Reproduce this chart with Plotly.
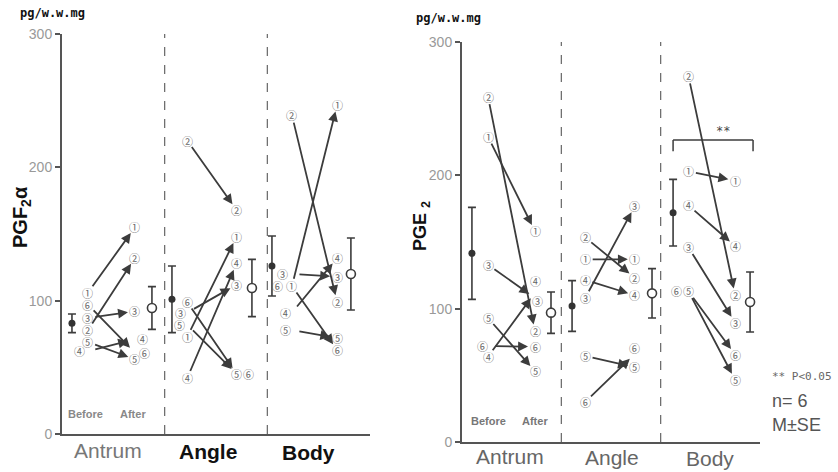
import plotly.graph_objects as go

# ---------------- data ----------------
regions = ["Antrum", "Angle", "Body"]
subjects = [1, 2, 3, 4, 5, 6]

# PGF2alpha (pg/w.w.mg), subjects 1..6, per region
pgf_before = {
    "Antrum": [106, 78, 87, 62, 69, 97],
    "Angle": [73, 220, 91, 42, 82, 99],
    "Body": [111, 239, 120, 91, 78, 111],
}
pgf_after = {
    "Antrum": [155, 132, 92, 71, 56, 61],
    "Angle": [148, 168, 112, 128, 45, 45],
    "Body": [247, 99, 118, 132, 72, 63],
}
pgf_mean_before = [83, 101, 126]
pgf_se_before = [7, 25, 22.5]
pgf_mean_after = [94.5, 109.5, 120]
pgf_se_after = [16, 21.5, 27]

# PGE2 (pg/w.w.mg)
pge_before = {
    "Antrum": [229, 259, 133, 64, 93, 72],
    "Angle": [137, 153.5, 108, 121.5, 64.5, 30],
    "Body": [203, 274.5, 146, 177.5, 113, 113],
}
pge_after = {
    "Antrum": [158, 83, 108, 112, 53, 71.5],
    "Angle": [137, 123, 177, 110, 56, 66],
    "Body": [196, 110, 89.5, 147, 46.5, 65.5],
}
pge_mean_before = [141.5, 102, 172]
pge_se_before = [34.5, 19, 25]
pge_mean_after = [97, 111.5, 105]
pge_se_after = [15.5, 18.5, 22.5]

y_ticks = [0, 100, 200, 300]
circled = ["①", "②", "③", "④", "⑤", "⑥"]

# ---------------- layout helpers ----------------
W, H = 838, 472
# x positions inside each region: mean-before, points-before, points-after, mean-after
POS = {
    "L": [(0.097, 0.253, 0.71, 0.876), (1.071, 1.22, 1.70, 1.85), (2.045, 2.24, 2.68, 2.814)],
    "R": [(0.10, 0.262, 0.735, 0.896), (1.108, 1.24, 1.74, 1.913), (2.125, 2.28, 2.75, 2.90)],
}
# pixel nudges for crowded circled labels: (panel, region, side, subject) -> (dx, dy)
NUDGE = {
    ("L", "Antrum", "b", 4): (-8, 0),
    ("L", "Antrum", "a", 4): (8, 0),
    ("L", "Antrum", "a", 6): (10, 0),
    ("L", "Angle", "b", 3): (-7, 0),
    ("L", "Angle", "b", 5): (-8, 0),
    ("L", "Angle", "a", 6): (12, 0),
    ("L", "Body", "b", 3): (-9, 0),
    ("L", "Body", "b", 4): (-6, 0),
    ("L", "Body", "b", 5): (-6, 0),
    ("L", "Body", "b", 6): (-14, 0),
    ("R", "Antrum", "b", 6): (-6, 0),
    ("R", "Antrum", "a", 4): (0, 12),
    ("R", "Antrum", "a", 3): (2, -3),
    ("R", "Angle", "a", 6): (0, 6),
    ("R", "Body", "b", 6): (-12, 0),
}

LINE = "#3c3c3c"
LABEL = "#666666"
DIGIT_FONT = "Noto Sans CJK JP"

fig = go.Figure()
annotations = []
shapes = []


def add_panel(tag, xa, ya, before, after, mb, sb, ma, sa):
    for i, reg in enumerate(regions):
        pmb, pb, pa, pma = POS[tag][i]
        for s in subjects:
            vb = before[reg][s - 1]
            va = after[reg][s - 1]
            # arrow from before to after
            annotations.append(dict(
                x=pa, y=va, ax=pb, ay=vb, xref=xa, yref=ya, axref=xa, ayref=ya,
                text="", showarrow=True, arrowhead=2, arrowsize=1.1, arrowwidth=1.8,
                arrowcolor=LINE, standoff=7, startstandoff=6,
            ))
            for side, px, v in (("b", pb, vb), ("a", pa, va)):
                dx, dy = NUDGE.get((tag, reg, side, s), (0, 0))
                annotations.append(dict(
                    x=px, y=v, xref=xa, yref=ya, text=circled[s - 1], showarrow=False,
                    xshift=dx, yshift=dy,
                    font=dict(family=DIGIT_FONT, size=11, color=LABEL),
                ))
        # group means with SE bars
        fig.add_trace(go.Scatter(
            x=[pmb], y=[mb[i]], xaxis=xa, yaxis=ya, mode="markers",
            marker=dict(symbol="circle", size=7, color="#333333"),
            error_y=dict(type="data", array=[sb[i]], color=LINE, thickness=1.6, width=4),
            showlegend=False, hoverinfo="skip", cliponaxis=False,
        ))
        fig.add_trace(go.Scatter(
            x=[pma], y=[ma[i]], xaxis=xa, yaxis=ya, mode="markers",
            marker=dict(symbol="circle", size=9, color="white", line=dict(color=LINE, width=1.6)),
            error_y=dict(type="data", array=[sa[i]], color=LINE, thickness=1.6, width=4),
            showlegend=False, hoverinfo="skip", cliponaxis=False,
        ))
    # dashed separators between regions
    for xs in (1, 2):
        shapes.append(dict(type="line", xref=xa, yref=ya, x0=xs, x1=xs, y0=0, y1=300,
                           opacity=1, line=dict(color="#666666", width=1.2, dash="dash")))


add_panel("L", "x", "y", pgf_before, pgf_after,
          pgf_mean_before, pgf_se_before, pgf_mean_after, pgf_se_after)
add_panel("R", "x2", "y2", pge_before, pge_after,
          pge_mean_before, pge_se_before, pge_mean_after, pge_se_after)

# significance bracket over Body (PGE2)
shapes.append(dict(type="line", xref="x2", yref="y2", x0=2.125, x1=2.93, y0=226.5, y1=226.5,
                   opacity=1, line=dict(color=LINE, width=1.5)))
for xb in (2.125, 2.93):
    shapes.append(dict(type="line", xref="x2", yref="y2", x0=xb, x1=xb, y0=226.5, y1=218,
                       opacity=1, line=dict(color=LINE, width=1.5)))
annotations.append(dict(x=2.63, y=233, xref="x2", yref="y2", text="**", showarrow=False,
                        font=dict(family="DejaVu Sans Mono", size=12, color="#444")))


def paper(px, py):
    return px / W, 1 - py / H


def text_at(px, py, text, size, color, family="Liberation Sans", angle=0, xanchor="center"):
    x, y = paper(px, py)
    annotations.append(dict(x=x, y=y, xref="paper", yref="paper", text=text, showarrow=False,
                            xanchor=xanchor, yanchor="middle", textangle=angle,
                            font=dict(family=family, size=size, color=color)))


# units
text_at(18, 13, "<b>pg/w.w.mg</b>", 12, "#111", family="DejaVu Sans Mono", xanchor="left")
text_at(414, 18, "<b>pg/w.w.mg</b>", 12, "#111", family="DejaVu Sans Mono", xanchor="left")
# axis titles
text_at(21, 217, "<b>PGF<sub>2</sub>α</b>", 20, "#111", angle=-90)
text_at(421, 226, "<b>PGE <sub>2</sub></b>", 18, "#111", angle=-90)
# region labels
text_at(108, 450, "Antrum", 21, "#777")
text_at(208, 451, "<b>Angle</b>", 21, "#111")
text_at(308, 452, "<b>Body</b>", 21, "#111")
text_at(510, 456, "Antrum", 21, "#666")
text_at(612, 457, "Angle", 21, "#666")
text_at(710, 458, "Body", 21, "#666")
# before / after captions
text_at(85, 414, "<b>Before</b>", 11, "#888")
text_at(133, 414, "<b>After</b>", 11, "#888")
text_at(488, 421, "<b>Before</b>", 11, "#777")
text_at(535, 421, "<b>After</b>", 11, "#777")
# key
text_at(770, 376, "** P<0.05", 11, "#666", family="DejaVu Sans Mono", xanchor="left")
text_at(770, 401, "n= 6", 18, "#555", xanchor="left")
text_at(770, 425, "M±SE", 18, "#555", xanchor="left")

axis_common = dict(showgrid=False, zeroline=False, showline=True, linecolor="#555", linewidth=2,
                   automargin=False)
yaxis_common = dict(axis_common, range=[0, 300], tickvals=y_ticks, ticks="outside", ticklen=5,
                    tickcolor="#555", tickwidth=1.5,
                    tickfont=dict(family="Liberation Sans", size=14, color="#999"))
xaxis_common = dict(axis_common, range=[0, 3], showticklabels=False, ticks="")

fig.update_layout(
    template="none",
    width=W, height=H, margin=dict(l=0, r=0, t=0, b=0, pad=0, autoexpand=False),
    paper_bgcolor="white", plot_bgcolor="white",
    xaxis=dict(xaxis_common, domain=[62 / W, 370 / W], anchor="y"),
    yaxis=dict(yaxis_common, domain=[1 - 434 / H, 1 - 34 / H], anchor="x"),
    xaxis2=dict(xaxis_common, domain=[462 / W, 760 / W], anchor="y2"),
    yaxis2=dict(yaxis_common, domain=[1 - 442 / H, 1 - 42 / H], anchor="x2"),
    annotations=annotations, shapes=shapes, showlegend=False,
)

# page body without default margin so the figure fills the window exactly
fig.write_html("out.html", post_script="document.body.style.margin='0';")
